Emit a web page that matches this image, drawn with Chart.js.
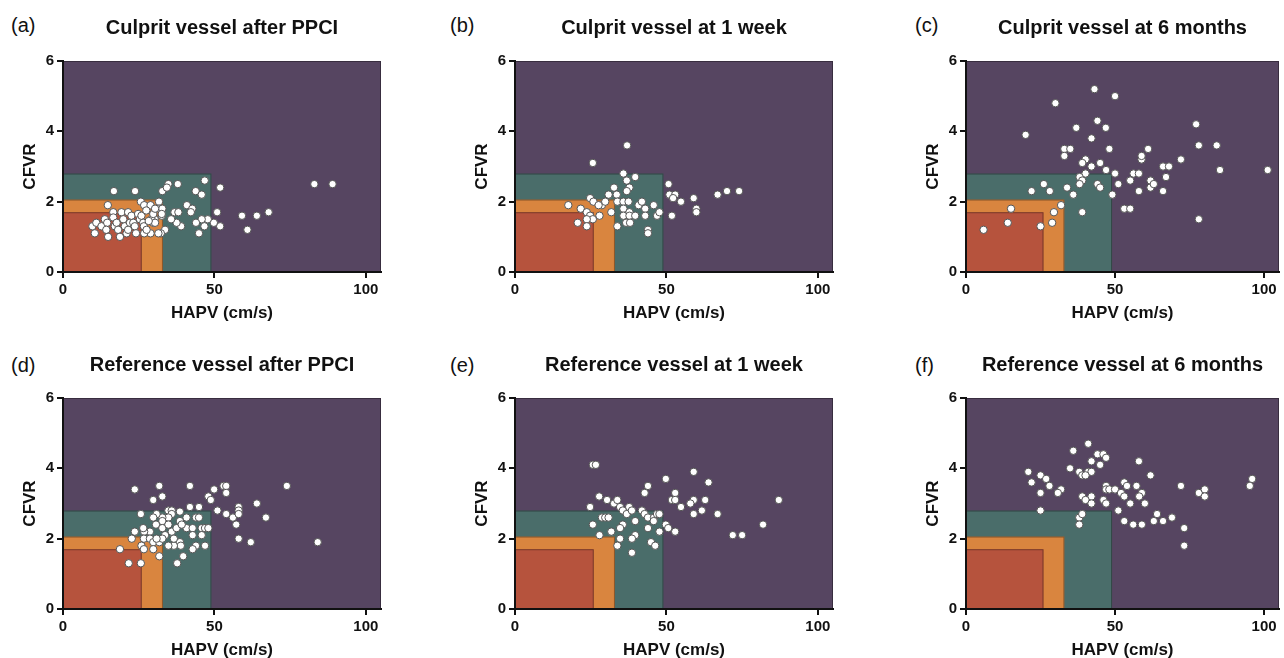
<!DOCTYPE html>
<html lang="en">
<head>
    <meta charset="UTF-8">
    <title>CFVR vs HAPV</title>
    <script src="https://cdn.jsdelivr.net/npm/chart.js"></script>
    <style>
        body {
            margin: 0;
            width: 1284px;
            height: 658px;
            overflow: hidden;
            background: #fff;
            font-family: 'Liberation Sans', Arial, sans-serif;
        }
        .panel {
            position: absolute;
        }
        .letter {
            position: absolute;
            font-size: 20px;
            line-height: 20px;
            color: #111;
        }
    </style>
</head>
<body>
    <div class="letter" style="left:11px; top:15px">(a)</div>
    <div class="letter" style="left:450px; top:15px">(b)</div>
    <div class="letter" style="left:915px; top:15px">(c)</div>
    <div class="letter" style="left:11px; top:355px">(d)</div>
    <div class="letter" style="left:450px; top:355px">(e)</div>
    <div class="letter" style="left:915px; top:355px">(f)</div>

    <canvas class="panel" id="pa" width="430" height="330" style="left:0; top:0"></canvas>
    <canvas class="panel" id="pb" width="430" height="330" style="left:452px; top:0"></canvas>
    <canvas class="panel" id="pc" width="381" height="330" style="left:903px; top:0"></canvas>
    <canvas class="panel" id="pd" width="430" height="330" style="left:0; top:337px"></canvas>
    <canvas class="panel" id="pe" width="430" height="330" style="left:452px; top:337px"></canvas>
    <canvas class="panel" id="pf" width="381" height="330" style="left:903px; top:337px"></canvas>

    <script>
        // axis ticks
        const xTicks = [0, 50, 100];
        const yTicks = [0, 2, 4, 6];

        // nested zones, outer to inner: HAPV limit and CFVR limit
        const zoneHapv = [105, 49, 33, 26];
        const zoneCfvr = [6, 2.8, 2.06, 1.7];

        const titles = [
            'Culprit vessel after PPCI', 'Culprit vessel at 1 week', 'Culprit vessel at 6 months',
            'Reference vessel after PPCI', 'Reference vessel at 1 week', 'Reference vessel at 6 months'
        ];

        // [HAPV, CFVR] per patient
        const culpritPost = [
            [83,2.5],[89,2.5],[16.8,2.3],[23.8,2.3],[32.8,2.3],[34.8,2.5],[37.9,2.5],[34.3,2.4],[46.8,2.6],[43.8,2.3],[45.8,2.2],[51.9,2.4],
            [14.8,1.9],[25.7,2.0],[26.8,1.9],[28.9,1.9],[31.7,2.0],[31.7,1.8],[32.8,1.8],[32.6,1.6],[40.9,1.9],[42.7,1.8],[36.8,1.7],[38.1,1.7],
            [42.2,1.7],[50.9,1.7],[59.1,1.6],[64.0,1.6],[67.9,1.7],[60.9,1.2],[51.9,1.3],[49.8,1.4],[47.8,1.5],[45.8,1.5],[43.9,1.4],[46.7,1.3],
            [44.9,1.1],[39.0,1.3],[37.5,1.4],[35.7,1.5],[33.7,1.2],[32.3,1.1],[31.5,1.1],[28.9,1.1],[26.8,1.1],[29.8,1.4],[30.3,1.5],
            [9.7,1.3],[11.0,1.4],[10.5,1.1],[12.7,1.3],[13.8,1.5],[14.6,1.4],[14.3,1.2],[14.9,1.0],[16.6,1.7],[16.6,1.55],[17.1,1.3],[17.7,1.4],
            [18.2,1.2],[18.8,1.0],[19.3,1.7],[19.9,1.5],[20.4,1.3],[21.0,1.1],[21.5,1.2],[22.1,1.4],[21.5,1.7],[22.6,1.6],[23.2,1.4],[23.7,1.3],
            [24.1,1.1],[24.8,1.65],[25.4,1.5],[25.9,1.6],[26.5,1.4],[26.7,1.3],[27.6,1.2],[29.2,1.5],[29.8,1.65],[30.4,1.8],[32.6,1.65],[30.4,1.4],
            [27.5,1.75],[28.3,1.45]
        ];
        const culprit1w = [
            [37.0,3.6],[25.7,3.1],[35.8,2.8],[39.7,2.7],[36.9,2.6],[37.8,2.4],[36.9,2.3],[32.7,2.4],[30.9,2.2],[33.6,2.2],[24.8,2.1],[25.9,2.0],
            [28.7,1.9],[29.8,2.0],[27.6,1.9],[17.6,1.9],[21.7,1.8],[23.7,1.7],[24.8,1.6],[25.7,1.5],[23.7,1.5],[20.7,1.4],[23.7,1.3],[27.9,1.6],
            [31.8,1.7],[33.8,2.0],[35.8,2.0],[37.5,2.0],[35.8,1.8],[35.8,1.6],[37.8,1.7],[37.8,1.6],[36.7,1.4],[38.0,1.4],[39.7,1.6],[40.8,1.9],
            [41.9,2.0],[43.0,1.8],[43.0,1.6],[45.8,1.9],[46.9,1.6],[47.7,1.7],[33.8,1.3],[43.9,1.2],[43.9,1.1],[50.7,2.5],[51.0,2.2],[52.9,2.2],
            [52.2,2.1],[54.8,2.0],[59.0,2.1],[59.9,1.8],[59.9,1.7],[51.8,1.6],[66.9,2.2],[70.0,2.3],[74.0,2.3]
        ];
        const culprit6m = [
            [43.1,5.2],[50.0,5.0],[30.0,4.8],[20.0,3.9],[44.1,4.3],[37.0,4.1],[46.9,4.1],[42.1,3.8],[33.0,3.5],[35.0,3.5],[33.0,3.3],[48.1,3.5],
            [40.1,3.2],[39.0,3.1],[42.1,3.0],[45.0,3.1],[47.0,2.9],[40.1,2.8],[38.1,2.7],[39.0,2.6],[38.1,2.5],[44.1,2.5],[45.0,2.4],[33.9,2.4],
            [36.0,2.2],[49.1,2.2],[50.0,2.8],[51.1,2.5],[55.1,2.6],[56.2,2.8],[58.0,2.8],[58.0,2.3],[58.9,3.2],[58.9,3.3],[61.1,3.5],[61.9,2.6],
            [61.9,2.4],[63.0,2.5],[66.1,3.0],[68.1,3.0],[67.1,2.7],[66.1,2.3],[72.1,3.2],[77.2,4.2],[78.1,3.6],[84.1,3.6],[85.2,2.9],[78.1,1.5],
            [101.2,2.9],[53.1,1.8],[55.1,1.8],[39.0,1.7],[26.1,2.5],[22.0,2.3],[28.1,2.3],[31.9,1.9],[29.5,1.7],[28.9,1.4],[25.0,1.3],[15.1,1.8],
            [14.0,1.4],[5.9,1.2]
        ];
        const referencePost = [
            [23.7,3.4],[31.8,3.5],[41.9,3.5],[32.8,3.2],[29.8,3.1],[53.0,3.5],[53.9,3.5],[53.9,3.3],[49.9,3.4],[48.0,3.2],[48.8,3.1],[51.0,2.8],
            [53.9,2.7],[56.1,2.6],[57.2,2.4],[58.0,2.9],[58.0,2.8],[58.0,2.7],[64.0,3.0],[67.0,2.6],[73.9,3.5],[84.1,1.9],[62.0,1.9],[58.0,2.0],
            [41.9,2.9],[44.9,2.9],[40.8,2.6],[43.9,2.6],[44.9,2.6],[40.8,2.3],[42.8,2.3],[45.8,2.3],[46.9,2.3],[48.0,2.3],[42.8,2.1],[45.8,2.1],
            [43.9,1.8],[42.8,1.7],[46.9,1.8],[39.7,1.5],[37.7,1.3],[38.6,1.9],[38.9,1.8],[36.6,1.8],[34.8,1.8],[36.6,2.0],[33.7,2.1],[35.9,2.2],
            [37.5,2.3],[38.6,2.77],[34.8,2.8],[35.9,2.8],[35.9,2.7],[34.8,2.6],[32.8,2.6],[32.8,2.5],[30.9,2.7],[29.8,2.6],[30.7,2.4],[32.8,2.3],
            [28.7,2.2],[26.8,2.2],[26.5,2.3],[25.7,2.7],[23.7,2.2],[22.7,2.0],[26.7,2.0],[28.7,2.0],[29.8,1.9],[31.8,1.9],[32.8,2.0],[30.9,2.0],
            [25.9,1.8],[26.7,1.7],[29.8,1.7],[31.8,1.5],[18.8,1.7],[21.7,1.3],[25.7,1.3],[38.6,2.5],[39.2,2.4],[34.8,2.4]
        ];
        const reference1w = [
            [25.7,4.1],[26.7,4.1],[59.0,3.9],[49.8,3.7],[63.9,3.6],[43.9,3.5],[42.8,3.3],[52.9,3.3],[51.8,3.1],[52.9,3.1],[59.0,3.1],[57.9,3.0],
            [62.8,3.1],[54.8,2.9],[59.0,2.7],[61.7,2.8],[66.9,2.7],[87.1,3.1],[81.9,2.4],[71.9,2.1],[75.0,2.1],[27.8,3.2],[24.8,2.9],[30.4,3.1],
            [32.7,3.0],[33.8,3.1],[34.7,2.9],[37.7,2.9],[35.6,2.8],[36.9,2.7],[38.6,2.8],[41.9,2.8],[42.8,2.7],[43.9,2.6],[45.9,2.6],[46.9,2.7],
            [47.7,2.7],[45.8,2.5],[25.7,2.4],[28.7,2.6],[29.8,2.6],[30.9,2.6],[27.9,2.1],[31.8,2.2],[35.6,2.4],[34.7,2.3],[39.7,2.5],[43.9,2.3],
            [47.7,2.2],[49.8,2.4],[50.6,2.3],[52.9,2.2],[34.7,2.0],[39.7,2.1],[38.6,2.0],[33.8,1.8],[44.9,1.9],[46.3,1.8],[38.6,1.6]
        ];
        const reference6m = [
            [41.0,4.7],[36.0,4.5],[44.1,4.4],[46.1,4.4],[47.0,4.3],[42.1,4.2],[45.0,4.1],[58.0,4.2],[34.9,4.0],[38.0,3.9],[41.0,3.9],[42.1,3.9],
            [39.0,3.8],[40.1,3.8],[20.9,3.9],[25.0,3.8],[26.9,3.7],[22.0,3.6],[28.0,3.5],[31.9,3.4],[30.8,3.3],[25.0,3.3],[25.0,2.8],[61.9,3.8],
            [47.0,3.5],[47.0,3.4],[48.1,3.4],[50.0,3.4],[53.1,3.6],[54.0,3.5],[52.0,3.3],[53.1,3.2],[57.2,3.5],[59.0,3.3],[58.1,3.2],[55.1,3.0],
            [60.0,3.0],[39.0,3.2],[42.1,3.2],[40.1,3.1],[42.1,3.0],[46.1,3.1],[47.0,3.0],[51.1,2.8],[38.0,2.6],[39.0,2.7],[38.0,2.4],[53.1,2.5],
            [56.1,2.4],[59.0,2.4],[63.0,2.5],[64.1,2.7],[66.1,2.5],[69.1,2.6],[72.1,3.5],[73.2,2.3],[73.2,1.8],[78.1,3.3],[80.1,3.4],[80.1,3.2],
            [95.2,3.5],[96.0,3.7]
        ];

        const panelData = [culpritPost, culprit1w, culprit6m, referencePost, reference1w, reference6m];
        const canvasIds = ['pa', 'pb', 'pc', 'pd', 'pe', 'pf'];

        const zoneColors = ['#564561', '#4a6d6a', '#d9853f', '#b6533d'];
        const FONT = "'Liberation Sans', Arial, sans-serif";

        // background zones drawn through the scales
        const zonePlugin = {
            id: 'zones',
            beforeDraw(chart) {
                const { ctx, scales: { x, y } } = chart;
                ctx.save();
                zoneHapv.forEach((hv, i) => {
                    const x0 = x.getPixelForValue(0);
                    const x1 = x.getPixelForValue(hv);
                    const y0 = y.getPixelForValue(0);
                    const y1 = y.getPixelForValue(zoneCfvr[i]);
                    ctx.fillStyle = zoneColors[i];
                    ctx.fillRect(x0, y1, x1 - x0, y0 - y1);
                    ctx.strokeStyle = 'rgba(0,0,0,0.35)';
                    ctx.lineWidth = 1;
                    ctx.strokeRect(x0 + 0.5, y1 + 0.5, x1 - x0 - 1, y0 - y1);
                });
                ctx.restore();
            }
        };

        function axisOpts(ticks, min, max, label, isX) {
            return {
                type: 'linear',
                min: min,
                max: max,
                afterBuildTicks: s => { s.ticks = ticks.map(v => ({ value: v })); },
                afterFit: s => {
                    if (isX) s.height = 58; else s.width = 63;
                },
                border: { display: true, color: '#111', width: 2 },
                grid: { drawOnChartArea: false, drawTicks: true, tickLength: 6, color: '#111', lineWidth: 2 },
                ticks: { color: '#111', padding: 3, font: { family: FONT, size: 15, weight: 'bold' } },
                title: {
                    display: true,
                    text: label,
                    color: '#111',
                    font: { family: FONT, size: 17, weight: 'bold' },
                    padding: isX ? { top: 0, bottom: 6 } : { top: 20, bottom: 0 }
                }
            };
        }

        canvasIds.forEach((id, i) => {
            const rightPad = (i % 3 === 2) ? 0 : 49;
            new Chart(document.getElementById(id), {
                type: 'scatter',
                data: {
                    datasets: [{
                        data: panelData[i].map(p => ({ x: p[0], y: p[1] })),
                        pointRadius: 3.7,
                        pointBackgroundColor: '#fff',
                        pointBorderColor: '#555',
                        pointBorderWidth: 1
                    }]
                },
                options: {
                    responsive: false,
                    animation: false,
                    layout: { padding: { left: 0, right: rightPad, top: 0, bottom: 0 } },
                    plugins: {
                        legend: { display: false },
                        tooltip: { enabled: false },
                        title: {
                            display: true,
                            text: titles[i],
                            fullSize: false,
                            color: '#111',
                            font: { family: FONT, size: 20, weight: 'bold' },
                            padding: { top: 16, bottom: 21 }
                        }
                    },
                    scales: {
                        x: axisOpts(xTicks, 0, 105, 'HAPV (cm/s)', true),
                        y: axisOpts(yTicks, 0, 6, 'CFVR', false)
                    }
                },
                plugins: [zonePlugin]
            });
        });
    </script>
</body>
</html>
